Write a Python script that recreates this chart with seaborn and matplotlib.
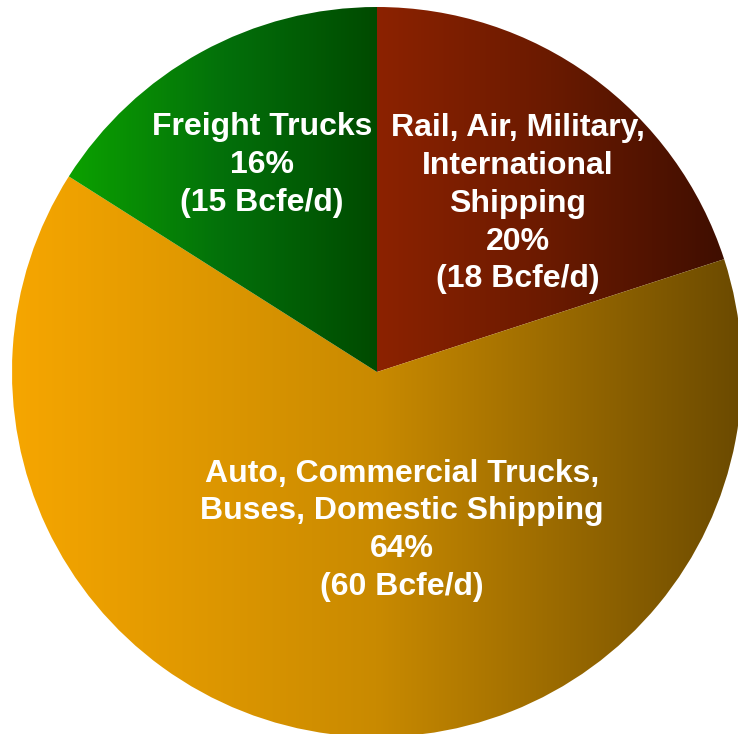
import numpy as np
import matplotlib
matplotlib.use('Agg')
import matplotlib.pyplot as plt
from matplotlib.colors import LinearSegmentedColormap
import seaborn as sns

# data
categories = ['Rail, Air, Military,\nInternational\nShipping',
              'Auto, Commercial Trucks,\nBuses, Domestic Shipping',
              'Freight Trucks']
shares = [20, 64, 16]
volumes = [18, 60, 15]

# left -> right gradient stops per slice
gradients = [['#8c2200', '#6a1a00', '#3f0e00'],
             ['#f6a600', '#c98a00', '#6b4a00'],
             ['#0ba100', '#03700a', '#004a00']]

# label anchor points (data units, pie radius = 1)
label_pos = [(0.386, 0.461), (0.068, -0.434), (-0.315, 0.567)]

sns.set_theme(style='white')
plt.rcParams['font.family'] = ['Liberation Sans', 'DejaVu Sans']

fig = plt.figure(figsize=(7.38, 7.34), dpi=100)
ax = fig.add_axes([0, 0, 1, 1])

wedges, _ = ax.pie(shares, startangle=90, counterclock=False, radius=1,
                   wedgeprops=dict(linewidth=0))

for w, stops in zip(wedges, gradients):
    ext = w.get_path().get_extents()
    cmap = LinearSegmentedColormap.from_list('g', stops)
    grad = np.linspace(0, 1, 256).reshape(1, -1)
    im = ax.imshow(grad, cmap=cmap, aspect='auto', interpolation='bicubic',
                   extent=[ext.x0, ext.x1, ext.y0, ext.y1], zorder=1)
    im.set_clip_path(w)
    w.set_facecolor('none')

for cat, pct, vol, (x, y) in zip(categories, shares, volumes, label_pos):
    ax.text(x, y, f'{cat}\n{pct}%\n({vol} Bcfe/d)', color='white',
            fontsize=23, fontweight='bold', ha='center', va='center',
            multialignment='center', linespacing=1.34, zorder=3)

ax.set_xlim(-377 / 365, 361 / 365)
ax.set_ylim(-362 / 365, 372 / 365)
ax.set_aspect('auto')
ax.axis('off')

fig.savefig('out.png', dpi=100, facecolor='white')
